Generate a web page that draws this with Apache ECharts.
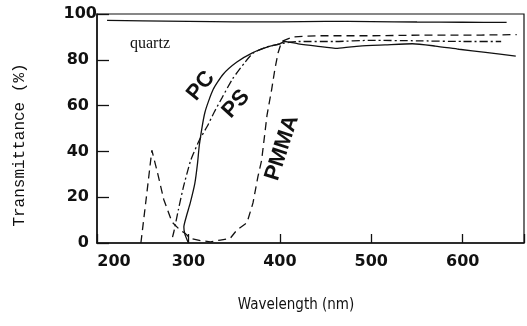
<!DOCTYPE html>
<html>
<head>
<meta charset="utf-8">
<script src="https://cdn.jsdelivr.net/npm/echarts@6/dist/echarts.min.js"></script>
<style>html,body{margin:0;padding:0;background:#fff}#c{width:527px;height:326px}</style>
</head>
<body>
<div id="c"></div>
<script>
// ---- data ----
var xTicks = [200, 300, 400, 500, 600];
var yTicks = [0, 20, 40, 60, 80, 100];

var quartzWl = [211, 250, 300, 350, 400, 450, 500, 550, 600, 648];
var quartzT  = [97.2, 97.0, 96.8, 96.6, 96.6, 96.8, 96.7, 96.5, 96.4, 96.3];

var pcWl = [300, 296, 295, 298, 302, 307, 310, 312, 318, 327, 338, 353, 370, 386, 400, 405, 420, 440, 463, 487, 515, 545, 570, 596, 625, 658];
var pcT  = [0, 4, 7, 12, 17.5, 26, 35, 43, 57, 67, 73.7, 79, 83, 85.5, 87, 88, 87, 86, 85, 86, 86.5, 87, 86, 84.6, 83.2, 81.6];

var psWl = [282.6, 284, 289, 294.6, 302, 305, 312, 320.6, 328, 337, 348, 362, 371, 385, 400, 420, 460, 500, 550, 600, 642];
var psT  = [2.6, 4.8, 14.5, 24.6, 35.5, 38.6, 45, 51, 57, 63.6, 71.5, 79, 83, 85.5, 87, 88, 88, 88.5, 88.3, 88, 88];

var pmmaWl = [248, 254, 260, 266, 273, 282, 290, 297, 302, 314, 324, 335, 345.6, 353, 364, 370.6, 376, 380, 386, 391, 394.6, 398, 402, 414, 440, 500, 560, 620, 659];
var pmmaT  = [0, 20, 40.5, 31, 19, 9.2, 6, 4, 2, 1, 0.5, 1.3, 2, 5.7, 8.8, 17.5, 29, 36, 56, 67, 76, 83, 88, 90, 90.5, 90.5, 90.8, 90.8, 91];

function pairs(xs, ys) { return xs.map(function (x, i) { return [x, ys[i]]; }); }

var chart = echarts.init(document.getElementById('c'), null, { renderer: 'canvas' });
var ink = '#111';

chart.setOption({
  animation: false,
  backgroundColor: '#fff',
  grid: { left: 97, right: 1, top: 14, bottom: 83, show: true, borderColor: ink, borderWidth: 1.2 },
  xAxis: {
    type: 'value', min: 200, max: 667, interval: 100,
    axisLine: { lineStyle: { color: ink, width: 1.5 } },
    axisTick: { inside: true, length: 9, lineStyle: { color: ink, width: 1.3 } },
    splitLine: { show: false },
    axisLabel: {
      margin: 11,
      fontFamily: 'DejaVu Sans', fontWeight: 'bold', fontSize: 16, color: ink,
      formatter: function (v) {
        if (xTicks.indexOf(v) < 0) return '';
        if (v === xTicks[0]) return '{f|' + v + '}';
        return '' + v;
      },
      rich: { f: { padding: [0, 0, 0, 34], fontFamily: 'DejaVu Sans', fontWeight: 'bold', fontSize: 16, color: ink } }
    }
  },
  yAxis: {
    type: 'value', min: 0, max: 100, interval: 20,
    axisLine: { show: true, lineStyle: { color: ink, width: 1.5 } },
    axisTick: { show: true, inside: true, length: 12, lineStyle: { color: ink, width: 1.3 } },
    splitLine: { show: false },
    axisLabel: {
      margin: 0,
      formatter: function (v) { return v === 100 ? '{h|' + v + '}' : '{n|' + v + '}'; },
      rich: {
        n: { padding: [0, 8, 0, 0], fontFamily: 'DejaVu Sans', fontWeight: 'bold', fontSize: 16, color: ink },
        h: { padding: [0, 0, 0, 0], fontFamily: 'DejaVu Sans', fontWeight: 'bold', fontSize: 16, color: ink }
      }
    }
  },
  series: [
    { name: 'quartz', type: 'line', data: pairs(quartzWl, quartzT), symbol: 'none', smooth: 0.2,
      lineStyle: { color: ink, width: 1.3, type: 'solid' } },
    { name: 'PC', type: 'line', data: pairs(pcWl, pcT), symbol: 'none', smooth: 0.2,
      lineStyle: { color: ink, width: 1.3, type: 'solid' } },
    { name: 'PS', type: 'line', data: pairs(psWl, psT), symbol: 'none', smooth: 0.2,
      lineStyle: { color: ink, width: 1.3, type: [8, 3, 2, 3] } },
    { name: 'PMMA', type: 'line', data: pairs(pmmaWl, pmmaT), symbol: 'none', smooth: false,
      lineStyle: { color: ink, width: 1.3, type: [8, 5] } }
  ],
  graphic: [
    { type: 'text', left: 130, top: 36, style: { text: 'quartz', font: '16px "Liberation Serif", serif', fill: ink } },
    { type: 'text', x: 201, y: 86, rotation: 51 * Math.PI / 180,
      style: { text: 'PC', font: 'bold 22px "Liberation Sans", Arial, sans-serif', fill: ink, align: 'center', verticalAlign: 'middle' } },
    { type: 'text', x: 236, y: 104, rotation: 48 * Math.PI / 180,
      style: { text: 'PS', font: 'bold 22px "Liberation Sans", Arial, sans-serif', fill: ink, align: 'center', verticalAlign: 'middle' } },
    { type: 'text', x: 282, y: 148, rotation: 72 * Math.PI / 180,
      style: { text: 'PMMA', font: 'bold 22px "Liberation Sans", Arial, sans-serif', fill: ink, align: 'center', verticalAlign: 'middle' } },
    { type: 'text', x: 20, y: 145, rotation: Math.PI / 2,
      style: { text: 'Transmittance (%)', font: '16px "Liberation Mono", monospace', fill: ink, align: 'center', verticalAlign: 'middle' } },
    { type: 'text', x: 296, y: 305,
      style: { text: 'Wavelength (nm)', font: '15px "DejaVu Sans Condensed", sans-serif', fill: ink, align: 'center', verticalAlign: 'middle' } }
  ]
});
</script>
</body>
</html>
